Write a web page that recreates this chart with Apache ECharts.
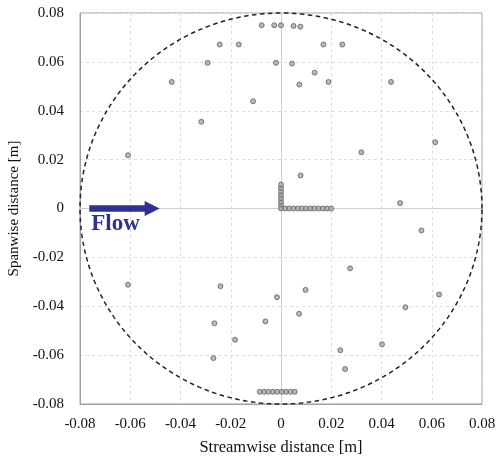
<!DOCTYPE html>
<html>
<head>
<meta charset="utf-8">
<script src="https://cdn.jsdelivr.net/npm/echarts@6/dist/echarts.min.js"></script>
<style>html,body{margin:0;padding:0;background:#fff}#c{width:497px;height:458px}</style>
</head>
<body>
<div id="c"></div>
<script>
// Tick labels
var xTicks = [-0.08, -0.06, -0.04, -0.02, 0, 0.02, 0.04, 0.06, 0.08];
var yTicks = [-0.08, -0.06, -0.04, -0.02, 0, 0.02, 0.04, 0.06, 0.08];

// Scattered measurement points
var scatterX = [-0.0077, -0.0027, 0, 0.005, 0.0077,
  -0.0244, -0.0168, 0.0169, 0.0244,
  -0.0292, -0.002, 0.0044, 0.0134,
  -0.0435, 0.0189, 0.0438, 0.0073,
  -0.0111, -0.0317, 0.0614, 0.032, -0.0609, 0.0078, 0.0474,
  0.0559, 0.0275, -0.0609, -0.0241, 0.0098, 0.0629, -0.0016,
  0.0495, 0.0072, -0.0062, -0.0265, -0.0183, 0.0402, 0.0236,
  -0.0269, 0.0255];
var scatterY = [0.075, 0.075, 0.075, 0.0747, 0.0744,
  0.0671, 0.0671, 0.0671, 0.0671,
  0.0596, 0.0596, 0.0593, 0.0556,
  0.0518, 0.0518, 0.0518, 0.0507,
  0.0439, 0.0355, 0.0271, 0.023, 0.0218, 0.0135, 0.0022,
  -0.009, -0.0245, -0.0312, -0.0318, -0.0333, -0.0352, -0.0363,
  -0.0404, -0.0431, -0.0462, -0.047, -0.0537, -0.0556, -0.058,
  -0.0612, -0.0657];

// Vertical rake at x = 0
var rakeVX = [0, 0, 0, 0, 0, 0, 0, 0];
var rakeVY = [0.0014, 0.0028, 0.0042, 0.0056, 0.007, 0.0084, 0.0098, 0.0];
// Horizontal rake at y = 0
var rakeHX = [0.0017, 0.0033, 0.005, 0.0067, 0.0083, 0.01, 0.0117, 0.0133, 0.015, 0.0167, 0.0183, 0.02];
var rakeHY = [0, 0, 0, 0, 0, 0, 0, 0, 0, 0, 0, 0];
// Bottom rake
var rakeBX = [-0.0085, -0.0067, -0.005, -0.0032, -0.0015, 0.0003, 0.002, 0.0038, 0.0055];
var rakeBY = [-0.075, -0.075, -0.075, -0.075, -0.075, -0.075, -0.075, -0.075, -0.075];

// Boundary circle radius (m)
var circleRadius = [0.08];
// Flow arrow (data coordinates): start x, end x, y
var arrowSpec = [-0.0763, -0.0483, 0];

function zip(a, b) { return a.map(function (v, i) { return [v, b[i]]; }); }
var points = zip(scatterX, scatterY)
  .concat(zip(rakeVX, rakeVY))
  .concat(zip(rakeHX, rakeHY))
  .concat(zip(rakeBX, rakeBY));

var serif = 'Liberation Serif';
var chart = echarts.init(document.getElementById('c'), null, {renderer: 'canvas'});
var axisCommon = {
  type: 'value', min: -0.08, max: 0.08, interval: 0.02,
  axisLine: {show: true, onZero: false, lineStyle: {color: '#a0a0a0', width: 1}},
  axisTick: {show: false},
  splitLine: {show: true, lineStyle: {color: '#dedede', type: [3, 3], width: 1}},
  axisLabel: {color: '#111', fontFamily: serif, fontSize: 15,
    formatter: function (v) { return String(+v.toFixed(2)); }},
  nameLocation: 'middle',
  nameTextStyle: {color: '#111', fontFamily: serif, fontSize: 15}
};
chart.setOption({
  animation: false,
  grid: {left: 80, right: 15, top: 13, bottom: 54, show: true, borderColor: '#a0a0a0', borderWidth: 1,
    outerBoundsMode: 'none', containLabel: false},
  xAxis: Object.assign({}, axisCommon, {name: 'Streamwise distance [m]', nameGap: 35,
    nameTextStyle: {color: '#111', fontFamily: serif, fontSize: 16.5},
    axisLabel: Object.assign({}, axisCommon.axisLabel, {margin: 13})}),
  yAxis: Object.assign({}, axisCommon, {name: 'Spanwise distance [m]', nameGap: 53,
    axisLabel: Object.assign({}, axisCommon.axisLabel, {margin: 16})}),
  series: [
    {
      type: 'line', data: [], silent: true, z: 1,
      markLine: {
        symbol: 'none', silent: true, label: {show: false}, z: 1,
        lineStyle: {color: '#cfcfcf', type: 'solid', width: 1},
        data: [{xAxis: 0}, {yAxis: 0}]
      }
    },
    {
      type: 'custom', silent: true, z: 3,
      data: [[0, 0, circleRadius[0]]],
      renderItem: function (params, api) {
        var r = api.value(2);
        var pts = [];
        for (var k = 0; k <= 360; k += 2) {
          var t = k * Math.PI / 180;
          pts.push(api.coord([r * Math.cos(t), r * Math.sin(t)]));
        }
        return {type: 'polyline', shape: {points: pts},
          style: {stroke: '#222', lineWidth: 1.5, lineDash: [4.5, 3.5], fill: null}};
      }
    },
    {
      type: 'custom', silent: true, z: 10,
      data: [arrowSpec],
      renderItem: function (params, api) {
        var s = api.coord([api.value(0), api.value(2)]);
        var e = api.coord([api.value(1), api.value(2)]);
        var h = 3.2, hh = 7.5, hl = 15;
        var pts = [[s[0], s[1] - h], [e[0] - hl, s[1] - h], [e[0] - hl, s[1] - hh], [e[0], s[1]],
                   [e[0] - hl, s[1] + hh], [e[0] - hl, s[1] + h], [s[0], s[1] + h]];
        return {type: 'group', children: [
          {type: 'polygon', shape: {points: pts}, style: {fill: '#2E3192'}, z2: 10},
          {type: 'text', style: {text: 'Flow', x: s[0] + 2, y: s[1] + 16, fill: '#2E3192',
            font: 'bold 23px "' + serif + '"', textAlign: 'left', textVerticalAlign: 'middle'}}
        ]};
      }
    },
    {
      type: 'scatter', z: 5, symbol: 'circle', symbolSize: 5,
      data: points,
      itemStyle: {color: '#a6a6a6', borderColor: '#555', borderWidth: 0.9}
    }
  ]
});
</script>
</body>
</html>
